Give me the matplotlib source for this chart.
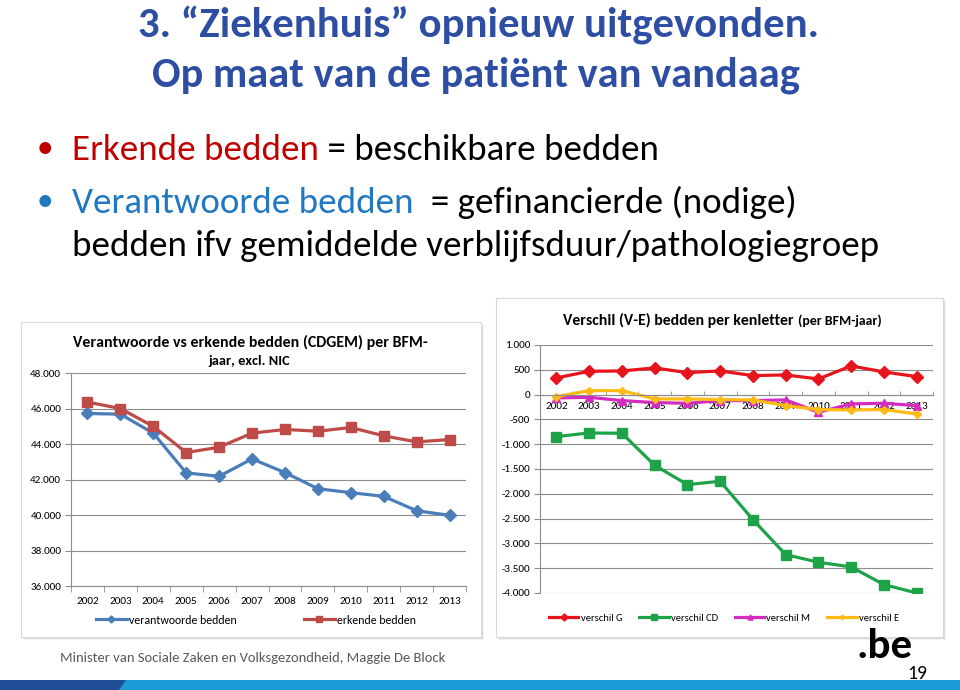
import matplotlib
matplotlib.use('Agg')
import matplotlib.pyplot as plt
from matplotlib.patches import Rectangle, Polygon
from matplotlib.ticker import FuncFormatter, FixedLocator

# ---- data ----
years = ['2002', '2003', '2004', '2005', '2006', '2007',
         '2008', '2009', '2010', '2011', '2012', '2013']
verantwoorde = [45720, 45680, 44610, 42370, 42180, 43160,
                42390, 41480, 41260, 41050, 40240, 39980]
erkende = [46360, 46000, 44990, 43520, 43820, 44610,
           44820, 44720, 44930, 44460, 44120, 44250]

verschil_g = [336, 470, 477, 538, 443, 477, 383, 396, 316, 578, 457, 363]
verschil_cd = [-847, -773, -780, -1425, -1815, -1747,
               -2520, -3226, -3380, -3474, -3831, -3999]
verschil_m = [-67, -54, -121, -161, -175, -121, -121, -107, -356, -188, -175, -222]
verschil_e = [-40, 80, 80, -87, -87, -100, -107, -222, -302, -309, -302, -390]

W, H = 960, 690
CAL = ['Carlito', 'Liberation Sans', 'DejaVu Sans']
plt.rcParams['font.family'] = CAL

fig = plt.figure(figsize=(9.6, 6.9), dpi=100)
renderer = fig.canvas.get_renderer()


def fx(x):
    return x / W


def fy(y):
    return 1 - y / H


def put(x, y, s, width=None, size=12, **kw):
    """place text at pixel coords, optionally scaled to a pixel width"""
    kw.setdefault('va', 'baseline')
    t = fig.text(fx(x), fy(y), s, fontsize=size, **kw)
    if width:
        w = t.get_window_extent(renderer).width
        t.set_fontsize(size * width / w)
    return t


def text_width(t):
    return t.get_window_extent(renderer).width


def chart_box(x0, y0, x1, y1):
    for i, a in enumerate([0.10, 0.16, 0.25]):
        off = 3 - i
        fig.patches.append(Rectangle((fx(x0 + off), fy(y1 + off)), (x1 - x0) / W, (y1 - y0) / H,
                                     transform=fig.transFigure, facecolor='#7f7f7f',
                                     edgecolor='none', alpha=a, zorder=-3))
    fig.patches.append(Rectangle((fx(x0), fy(y1)), (x1 - x0) / W, (y1 - y0) / H,
                                 transform=fig.transFigure, facecolor='white',
                                 edgecolor='#d9d9d9', lw=0.8, zorder=-2))


# ---- slide title and bullets ----
TITLE_BLUE = '#2D4EA2'
put(478, 37, '3. \u201cZiekenhuis\u201d opnieuw uitgevonden.', width=680, size=28,
    weight='bold', color=TITLE_BLUE, ha='center')
put(476, 87, 'Op maat van de pati\u00ebnt van vandaag', width=648, size=28,
    weight='bold', color=TITLE_BLUE, ha='center')

line3 = put(72, 256, 'bedden ifv gemiddelde verblijfsduur/pathologiegroep', width=810,
            size=24, color='black')
fs = line3.get_fontsize()

put(37, 157, '\u2022', size=fs * 0.9, color='#C00000')
t = put(72, 160, 'Erkende bedden', size=fs, color='#C00000')
put(72 + text_width(t), 160, ' = beschikbare bedden', size=fs, color='black')

put(37, 210, '\u2022', size=fs * 0.9, color='#1F78C1')
t = put(72, 213, 'Verantwoorde bedden', size=fs, color='#1F78C1')
put(72 + text_width(t), 213, '  = gefinancierde (nodige)', size=fs, color='black')

# ---- chart frames ----
chart_box(21, 322, 481, 637)
chart_box(496, 298, 943, 637)

thousands = FuncFormatter(lambda v, p: f'{int(v):,}'.replace(',', '.'))
xs = list(range(len(years)))
GRID = '#8c8c8c'
TICK_FS = 8

# ---- left chart ----
ax1 = fig.add_axes([fx(71), fy(586), (466 - 71) / W, (586 - 373) / H])
ax1.set_facecolor('none')
ax1.plot(xs, verantwoorde, color='#4A7EBB', lw=2.3, marker='D', ms=6,
         label='verantwoorde bedden')
ax1.plot(xs, erkende, color='#BE4B48', lw=2.3, marker='s', ms=7.5,
         label='erkende bedden')
ax1.set_xlim(-0.5, len(years) - 0.5)
ax1.set_ylim(36000, 48000)
ax1.set_yticks(range(36000, 48001, 2000))
ax1.yaxis.set_major_formatter(thousands)
ax1.set_xticks(xs)
ax1.set_xticklabels(years)
ax1.xaxis.set_minor_locator(FixedLocator([i - 0.5 for i in range(len(years) + 1)]))
ax1.tick_params(axis='x', which='major', length=0, pad=8, labelsize=TICK_FS)
ax1.tick_params(axis='x', which='minor', length=4, color=GRID)
ax1.tick_params(axis='y', length=4, color=GRID, pad=3, labelsize=TICK_FS)
ax1.grid(axis='y', color=GRID, lw=0.8)
ax1.set_axisbelow(True)
for s in ['top', 'right']:
    ax1.spines[s].set_visible(False)
for s in ['left', 'bottom']:
    ax1.spines[s].set_color(GRID)
ax1.legend(loc='center', bbox_to_anchor=(fx(256), fy(620)), bbox_transform=fig.transFigure,
           ncol=2, frameon=False, fontsize=8.6, handlelength=2.6, markerscale=0.6,
           columnspacing=5.6, handletextpad=0.2)
put(250, 347, 'Verantwoorde vs erkende bedden (CDGEM) per BFM-', width=354, size=9,
    weight='bold', ha='center', color='black')
put(249, 365, 'jaar, excl. NIC', width=82, size=9, weight='bold', ha='center', color='black')

# ---- right chart ----
ax2 = fig.add_axes([fx(540), fy(593), (933 - 540) / W, (593 - 345) / H])
ax2.set_facecolor('none')
ax2.plot(xs, verschil_g, color='#E8141C', lw=2.3, marker='D', ms=6, label='verschil G')
ax2.plot(xs, verschil_cd, color='#1FA348', lw=2.3, marker='s', ms=7, label='verschil CD')
ax2.plot(xs, verschil_m, color='#D42BC0', lw=2.3, marker='^', ms=6, label='verschil M')
ax2.plot(xs, verschil_e, color='#FDBB14', lw=2.3, marker='D', ms=4, label='verschil E')
ax2.set_xlim(-0.5, len(years) - 0.5)
ax2.set_ylim(-4000, 1000)
ax2.set_yticks(range(-4000, 1001, 500))
ax2.yaxis.set_major_formatter(thousands)
ax2.set_xticks(xs)
ax2.set_xticklabels(years)
ax2.xaxis.set_minor_locator(FixedLocator([i - 0.5 for i in range(len(years) + 1)]))
ax2.spines['bottom'].set_position(('data', 0))
ax2.tick_params(axis='x', which='major', length=0, pad=5, labelsize=TICK_FS)
ax2.tick_params(axis='x', which='minor', length=3, direction='in', color=GRID)
ax2.tick_params(axis='y', length=4, color=GRID, pad=3, labelsize=TICK_FS)
ax2.grid(axis='y', color=GRID, lw=0.8)
ax2.set_axisbelow(True)
for s in ['top', 'right']:
    ax2.spines[s].set_visible(False)
for s in ['left', 'bottom']:
    ax2.spines[s].set_color(GRID)
ax2.legend(loc='center', bbox_to_anchor=(fx(724), fy(618)), bbox_transform=fig.transFigure,
           ncol=4, frameon=False, fontsize=7.6, handlelength=2.8, markerscale=0.6,
           columnspacing=1.6, handletextpad=0.2)
t = put(563, 325, 'Verschil (V-E) bedden per kenletter', width=230, size=10,
        weight='bold', color='black')
put(563 + text_width(t) + 4, 325, '(per BFM-jaar)', width=85, size=8,
    weight='bold', color='black')

# ---- footer ----
put(60, 662, 'Minister van Sociale Zaken en Volksgezondheid, Maggie De Block', width=386,
    size=10, color='#595959')
put(913, 658, '.be', size=31, weight='bold', color='black', ha='right')
put(907, 679, '19', width=20, size=12, color='black')
fig.patches.append(Rectangle((0, 0), 1, 10 / H, transform=fig.transFigure,
                             facecolor='#1C9AD6', edgecolor='none'))
fig.patches.append(Polygon([(0, fy(680)), (fx(126), fy(680)), (fx(119), fy(690)), (0, fy(690))],
                           closed=True, transform=fig.transFigure,
                           facecolor='#1F4E96', edgecolor='none'))

fig.savefig('out.png', dpi=100)
